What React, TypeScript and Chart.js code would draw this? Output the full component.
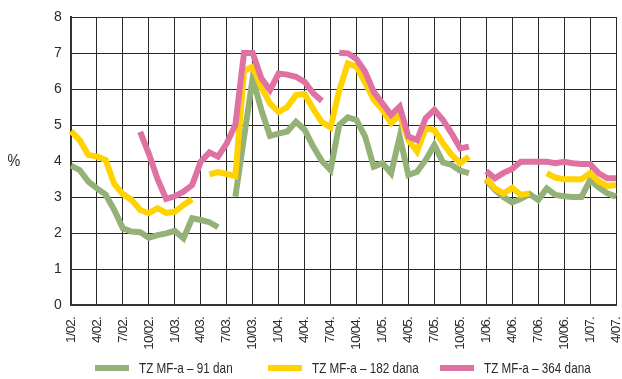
import React, { useEffect, useRef } from "react";
import { Chart, registerables } from "chart.js";

Chart.register(...registerables);

const YEARS = ["02", "03", "04", "05", "06", "07"];
const MONTHS_PER_YEAR = 12;
const LAST_MONTH_2007 = 4;

const categories: string[] = [];
YEARS.forEach((y, yi) => {
  const n = yi === YEARS.length - 1 ? LAST_MONTH_2007 : MONTHS_PER_YEAR;
  for (let m = 1; m <= n; m++) categories.push(`${m}/${y}.`);
});

const seriesNames = ["TZ MF-a \u2013 91 dan", "TZ MF-a \u2013 182 dana", "TZ MF-a \u2013 364 dana"];

const tz91: (number | null)[] = [
  3.87, 3.75, 3.43, 3.24, 3.07, 2.64, 2.13, 2.04, 2.02, 1.87, 1.94, 1.99,
  2.06, 1.85, 2.41, 2.36, 2.3, 2.16, null, 3.01, 4.65, 6.3, 5.42, 4.7,
  4.76, 4.82, 5.09, 4.87, 4.4, 4.0, 3.75, 5.0, 5.21, 5.14, 4.68, 3.84,
  3.94, 3.66, 4.68, 3.61, 3.7, 4.03, 4.44, 3.96, 3.89, 3.73, 3.66, null,
  3.47, 3.2, 3.0, 2.85, 2.95, 3.08, 2.92, 3.24, 3.06, 3.02, 3.0, 3.0,
  3.47, 3.27, 3.1, 3.01,
];

const tz182: (number | null)[] = [
  4.83, 4.58, 4.17, 4.12, 4.03, 3.36, 3.08, 2.92, 2.64, 2.55, 2.69, 2.56,
  2.59, 2.78, 2.94, null, 3.63, 3.69, 3.64, 3.58, 6.5, 6.62, 6.05, 5.6,
  5.36, 5.5, 5.83, 5.86, 5.45, 5.08, 4.93, 5.95, 6.71, 6.62, 6.18, 5.7,
  5.42, 5.05, 5.28, 4.58, 4.26, 4.91, 4.86, 4.49, 4.17, 3.94, 4.12, null,
  3.52, 3.24, 3.1, 3.25, 3.06, 3.1, null, 3.66, 3.54, 3.49, 3.49, 3.49,
  3.66, 3.43, 3.31, 3.33,
];

const tz364: (number | null)[] = [
  null, null, null, null, null, null, null, null, 4.81, 4.2, 3.5, 2.95,
  3.02, 3.15, 3.33, 3.98, 4.24, 4.12, 4.49, 5.0, 7.0, 7.0, 6.3, 5.97,
  6.43, 6.4, 6.34, 6.2, 5.88, 5.67, null, 7.01, 6.99, 6.83, 6.48, 5.92,
  5.6, 5.28, 5.51, 4.68, 4.58, 5.19, 5.42, 5.14, 4.77, 4.35, 4.4, null,
  3.72, 3.52, 3.67, 3.78, 3.98, 3.98, 3.98, 3.98, 3.94, 3.98, 3.94, 3.92,
  3.92, 3.66, 3.52, 3.52,
];

const yTicks = [0, 1, 2, 3, 4, 5, 6, 7, 8];

const COLORS = ["#94b177", "#ffd200", "#e071a3"];
const FONT = "'Liberation Sans', Arial, Helvetica, sans-serif";
const SPACING = "-0.8px";
const TEXT = "#2a2a2a";
const GRID = "#2a2a2a";

const setSpacing = (chart: any) => {
  try {
    chart.ctx.letterSpacing = SPACING;
  } catch (e) {
    /* ignore */
  }
};

// draws horizontally condensed text (the original uses a condensed typeface)
const condensedText = (ctx: any, text: string, x: number, y: number, squeeze: number) => {
  ctx.save();
  ctx.translate(x, y);
  ctx.scale(squeeze, 1);
  ctx.fillText(text, 0, 0);
  ctx.restore();
};

const extrasPlugin = {
  id: "extras",
  afterInit: setSpacing,
  beforeUpdate: setSpacing,
  beforeDraw: setSpacing,
  afterDraw(chart: any) {
    const { ctx, scales } = chart;
    ctx.save();
    ctx.letterSpacing = "0px";
    // y-axis unit
    ctx.fillStyle = TEXT;
    ctx.font = `16px ${FONT}`;
    ctx.textAlign = "center";
    ctx.textBaseline = "middle";
    condensedText(ctx, "%", 14, scales.y.getPixelForValue(4) + 1, 0.9);
    // legend
    const boxX = [95, 268, 440];
    const yc = 368;
    ctx.font = `15px ${FONT}`;
    ctx.textAlign = "left";
    chart.data.datasets.forEach((ds: any, i: number) => {
      ctx.fillStyle = ds.borderColor;
      ctx.fillRect(boxX[i], yc - 3, 34, 6);
      ctx.fillStyle = TEXT;
      condensedText(ctx, ds.label, boxX[i] + 44, yc + 1, 0.78);
    });
    ctx.restore();
  },
};

export default function App() {
  const ref = useRef<HTMLCanvasElement | null>(null);
  useEffect(() => {
    if (!ref.current) return;
    const series = [tz91, tz182, tz364];
    const chart = new Chart(ref.current, {
      type: "line",
      data: {
        labels: categories,
        datasets: series.map((d, i) => ({
          label: seriesNames[i],
          data: d,
          borderColor: COLORS[i],
          backgroundColor: COLORS[i],
          borderWidth: 6,
          pointRadius: 0,
          pointHoverRadius: 0,
          tension: 0,
          spanGaps: false,
          fill: false,
          order: 3 - i,
        })),
      },
      options: {
        responsive: false,
        animation: false,
        devicePixelRatio: 1,
        layout: { padding: { top: 17, right: 6, bottom: 24, left: 0 } },
        plugins: {
          legend: { display: false },
          tooltip: { enabled: false },
        },
        scales: {
          x: {
            type: "category",
            offset: false,
            grid: {
              drawTicks: false,
              color: (c: any) => (c.index % 3 === 0 ? GRID : "rgba(0,0,0,0)"),
              lineWidth: 1,
            },
            border: { color: "#333", width: 2 },
            ticks: {
              autoSkip: false,
              minRotation: 90,
              maxRotation: 90,
              padding: 12,
              color: TEXT,
              font: { family: FONT, size: 13.5 },
              callback: (_v: any, i: number) => (i % 3 === 0 ? categories[i] : ""),
            },
            afterFit: (s: any) => {
              s.height = 50;
              s.paddingLeft = 0;
              s.paddingRight = 0;
            },
          },
          y: {
            min: yTicks[0],
            max: yTicks[yTicks.length - 1],
            grid: { drawTicks: false, color: GRID, lineWidth: 1 },
            border: { color: "#333", width: 2 },
            ticks: {
              stepSize: 1,
              padding: 10,
              color: TEXT,
              font: { family: FONT, size: 14 },
            },
            afterFit: (s: any) => {
              s.width = 71;
              s.paddingTop = 0;
              s.paddingBottom = 0;
            },
          },
        },
      },
      plugins: [extrasPlugin],
    });
    return () => chart.destroy();
  }, []);
  return (
    <div style={{ position: "absolute", left: 0, top: 0, width: 622, height: 379, background: "#fff" }}>
      <canvas ref={ref} width={622} height={379} />
    </div>
  );
}
